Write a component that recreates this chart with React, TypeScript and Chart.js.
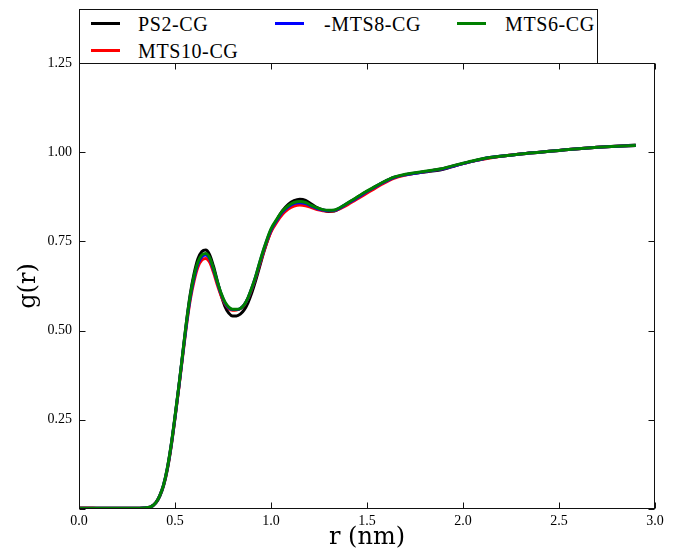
import React, { useEffect, useRef } from "react";
import { Chart, registerables } from "chart.js";

Chart.register(...registerables);

// r (nm)
const rNm = [
  0, 0.05, 0.1, 0.15, 0.2, 0.25, 0.3, 0.34, 0.37, 0.4,
  0.42, 0.44, 0.46, 0.48, 0.5, 0.52, 0.54, 0.56, 0.58, 0.6,
  0.62, 0.64, 0.66, 0.68, 0.7, 0.72, 0.74, 0.76, 0.78, 0.8,
  0.82, 0.84, 0.86, 0.88, 0.9, 0.92, 0.94, 0.96, 0.98, 1.0,
  1.03, 1.06, 1.09, 1.12, 1.15, 1.18, 1.21, 1.24, 1.27, 1.3,
  1.33, 1.36, 1.4, 1.44, 1.48, 1.53, 1.58, 1.64, 1.7, 1.76,
  1.82, 1.88, 1.94, 2.0, 2.07, 2.14, 2.22, 2.3, 2.4, 2.5,
  2.6, 2.7, 2.8, 2.9,
];

const ps2CG = [
  0.002, 0.002, 0.002, 0.002, 0.002, 0.002, 0.002, 0.003, 0.005, 0.017,
  0.035, 0.064, 0.11, 0.175, 0.255, 0.342, 0.434, 0.526, 0.604, 0.661,
  0.702, 0.722, 0.726, 0.713, 0.681, 0.64, 0.6, 0.568, 0.549, 0.541,
  0.541, 0.546, 0.558, 0.578, 0.606, 0.64, 0.678, 0.716, 0.75, 0.779,
  0.81, 0.836, 0.854, 0.864, 0.868, 0.865, 0.855, 0.845, 0.838, 0.834,
  0.835, 0.843, 0.857, 0.87, 0.884, 0.899, 0.914, 0.929, 0.937, 0.942,
  0.946, 0.95, 0.959, 0.968, 0.977, 0.985, 0.99, 0.995, 1.0, 1.005,
  1.01, 1.014, 1.017, 1.02,
];

const mts10CG = [
  0.003, 0.003, 0.002, 0.002, 0.002, 0.002, 0.002, 0.003, 0.005, 0.018,
  0.037, 0.066, 0.113, 0.177, 0.256, 0.34, 0.428, 0.515, 0.588, 0.641,
  0.679, 0.698, 0.702, 0.692, 0.664, 0.629, 0.598, 0.575, 0.562, 0.557,
  0.558, 0.561, 0.571, 0.59, 0.617, 0.648, 0.684, 0.718, 0.75, 0.777,
  0.804, 0.826, 0.841, 0.849, 0.852, 0.85, 0.845, 0.839, 0.836, 0.835,
  0.836, 0.842, 0.853, 0.866, 0.879, 0.895, 0.911, 0.927, 0.936, 0.942,
  0.947, 0.952, 0.96, 0.968, 0.977, 0.984, 0.99, 0.995, 1.0, 1.005,
  1.01, 1.014, 1.017, 1.019,
];

const mts8CG = [
  0.002, 0.002, 0.002, 0.002, 0.002, 0.002, 0.002, 0.003, 0.005, 0.018,
  0.037, 0.067, 0.114, 0.179, 0.258, 0.343, 0.432, 0.52, 0.595, 0.649,
  0.688, 0.707, 0.712, 0.702, 0.672, 0.636, 0.603, 0.578, 0.564, 0.559,
  0.559, 0.562, 0.572, 0.591, 0.619, 0.651, 0.688, 0.723, 0.755, 0.782,
  0.809, 0.832, 0.847, 0.856, 0.858, 0.856, 0.849, 0.842, 0.838, 0.836,
  0.837, 0.844, 0.857, 0.869, 0.883, 0.899, 0.914, 0.929, 0.937, 0.942,
  0.947, 0.952, 0.96, 0.968, 0.977, 0.985, 0.99, 0.995, 1.0, 1.005,
  1.01, 1.014, 1.017, 1.019,
];

const mts6CG = [
  0.002, 0.002, 0.002, 0.002, 0.002, 0.002, 0.002, 0.003, 0.005, 0.018,
  0.037, 0.067, 0.115, 0.18, 0.26, 0.345, 0.435, 0.525, 0.6, 0.655,
  0.693, 0.712, 0.716, 0.705, 0.675, 0.638, 0.605, 0.58, 0.566, 0.56,
  0.56, 0.562, 0.572, 0.592, 0.62, 0.652, 0.69, 0.725, 0.757, 0.785,
  0.812, 0.835, 0.85, 0.859, 0.862, 0.859, 0.851, 0.844, 0.839, 0.837,
  0.838, 0.845, 0.858, 0.871, 0.885, 0.9, 0.915, 0.93, 0.938, 0.943,
  0.948, 0.953, 0.961, 0.969, 0.978, 0.985, 0.99, 0.995, 1.0, 1.005,
  1.01, 1.014, 1.017, 1.019,
];

const seriesLabels = ["PS2-CG", "MTS10-CG", "-MTS8-CG", "MTS6-CG"];
const seriesColors = ["#000000", "#ff0000", "#0000ff", "#008000"];
const seriesValues = [ps2CG, mts10CG, mts8CG, mts6CG];

const xTickValues = [0, 0.5, 1, 1.5, 2, 2.5, 3];
const yTickValues = [0, 0.25, 0.5, 0.75, 1, 1.25];

const framePlugin = {
  id: "frameTicks",
  afterDatasetsDraw(chart: any) {
    const { ctx, chartArea: a, scales } = chart;
    ctx.save();
    ctx.strokeStyle = "#111";
    ctx.lineWidth = 1;
    const L = Math.round(a.left) + 0.5;
    const R = Math.round(a.right) - 0.5;
    const T = Math.round(a.top) + 0.5;
    const B = Math.round(a.bottom) - 0.5;
    ctx.strokeRect(L, T, R - L, B - T);
    const tl = 6;
    ctx.beginPath();
    xTickValues.forEach((v) => {
      const px = Math.round(scales.x.getPixelForValue(v)) + 0.5;
      ctx.moveTo(px, B);
      ctx.lineTo(px, B - tl);
      ctx.moveTo(px, T);
      ctx.lineTo(px, T + tl);
    });
    yTickValues.forEach((v) => {
      const py = Math.round(scales.y.getPixelForValue(v)) + 0.5;
      ctx.moveTo(L, py);
      ctx.lineTo(L + tl, py);
      ctx.moveTo(R, py);
      ctx.lineTo(R - tl, py);
    });
    ctx.stroke();
    ctx.restore();
  },
};

const legendRows = [
  { label: seriesLabels[0], color: seriesColors[0], lineX: 91, textX: 138, y: 23 },
  { label: seriesLabels[1], color: seriesColors[1], lineX: 91, textX: 138, y: 50 },
  { label: seriesLabels[2], color: seriesColors[2], lineX: 275, textX: 324, y: 23 },
  { label: seriesLabels[3], color: seriesColors[3], lineX: 457, textX: 505, y: 23 },
];

export default function App() {
  const canvasRef = useRef<HTMLCanvasElement | null>(null);

  useEffect(() => {
    const canvas = canvasRef.current;
    if (!canvas) return;
    const datasets = seriesValues.map((vals, i) => ({
      label: seriesLabels[i],
      data: rNm.map((r, j) => ({ x: r, y: vals[j] })),
      borderColor: seriesColors[i],
      backgroundColor: seriesColors[i],
      borderWidth: 3,
      pointRadius: 0,
      fill: false,
      cubicInterpolationMode: "monotone" as const,
      order: seriesValues.length - i,
    }));
    const chart = new Chart(canvas, {
      type: "line",
      data: { datasets },
      plugins: [framePlugin],
      options: {
        responsive: false,
        animation: false,
        devicePixelRatio: 1,
        layout: { padding: { top: 63, right: 18, left: 0, bottom: 0 } },
        plugins: { legend: { display: false }, tooltip: { enabled: false } },
        scales: {
          x: {
            type: "linear",
            min: 0,
            max: 3,
            afterFit: (s: any) => {
              s.height = 43;
            },
            afterBuildTicks: (s: any) => {
              s.ticks = xTickValues.map((v) => ({ value: v }));
            },
            grid: { display: false, drawTicks: false },
            border: { display: false },
            ticks: {
              padding: 4,
              color: "#000",
              font: { family: "'Liberation Serif', serif", size: 14 },
              maxRotation: 0,
              callback: (v: any) => Number(v).toFixed(1),
            },
            title: {
              display: true,
              text: "r (nm)",
              color: "#000",
              font: { family: "'DejaVu Serif', serif", size: 24 },
              padding: { top: 0, bottom: 0 },
            },
          },
          y: {
            type: "linear",
            min: 0,
            max: 1.25,
            afterFit: (s: any) => {
              s.width = 79;
            },
            afterBuildTicks: (s: any) => {
              s.ticks = yTickValues.map((v) => ({ value: v }));
            },
            grid: { display: false, drawTicks: false },
            border: { display: false },
            ticks: {
              padding: 7,
              color: "#000",
              font: { family: "'Liberation Serif', serif", size: 14 },
              callback: (v: any) => (Number(v) === 0 ? "" : Number(v).toFixed(2)),
            },
            title: {
              display: true,
              text: "g(r)",
              color: "#000",
              font: { family: "'DejaVu Serif', serif", size: 24 },
              padding: { top: 14, bottom: 0 },
            },
          },
        },
      },
    });
    return () => chart.destroy();
  }, []);

  return (
    <div
      style={{
        position: "fixed",
        left: 0,
        top: 0,
        width: 673,
        height: 552,
        background: "#fff",
      }}
    >
      <canvas ref={canvasRef} width={673} height={552} style={{ display: "block" }} />
      <div
        style={{
          position: "absolute",
          left: 79,
          top: 9,
          width: 519,
          height: 55,
          boxSizing: "border-box",
          border: "1px solid #111",
          background: "#fff",
        }}
      />
      {legendRows.map((row) => (
        <React.Fragment key={row.label}>
          <div
            style={{
              position: "absolute",
              left: row.lineX,
              top: row.y - 1.5,
              width: 29,
              height: 3,
              background: row.color,
            }}
          />
          <div
            style={{
              position: "absolute",
              left: row.textX,
              top: row.y - 11,
              height: 24,
              lineHeight: "24px",
              fontFamily: "'Liberation Serif', serif",
              fontSize: 20,
              letterSpacing: "0.6px",
              color: "#000",
              whiteSpace: "nowrap",
            }}
          >
            {row.label}
          </div>
        </React.Fragment>
      ))}
    </div>
  );
}
